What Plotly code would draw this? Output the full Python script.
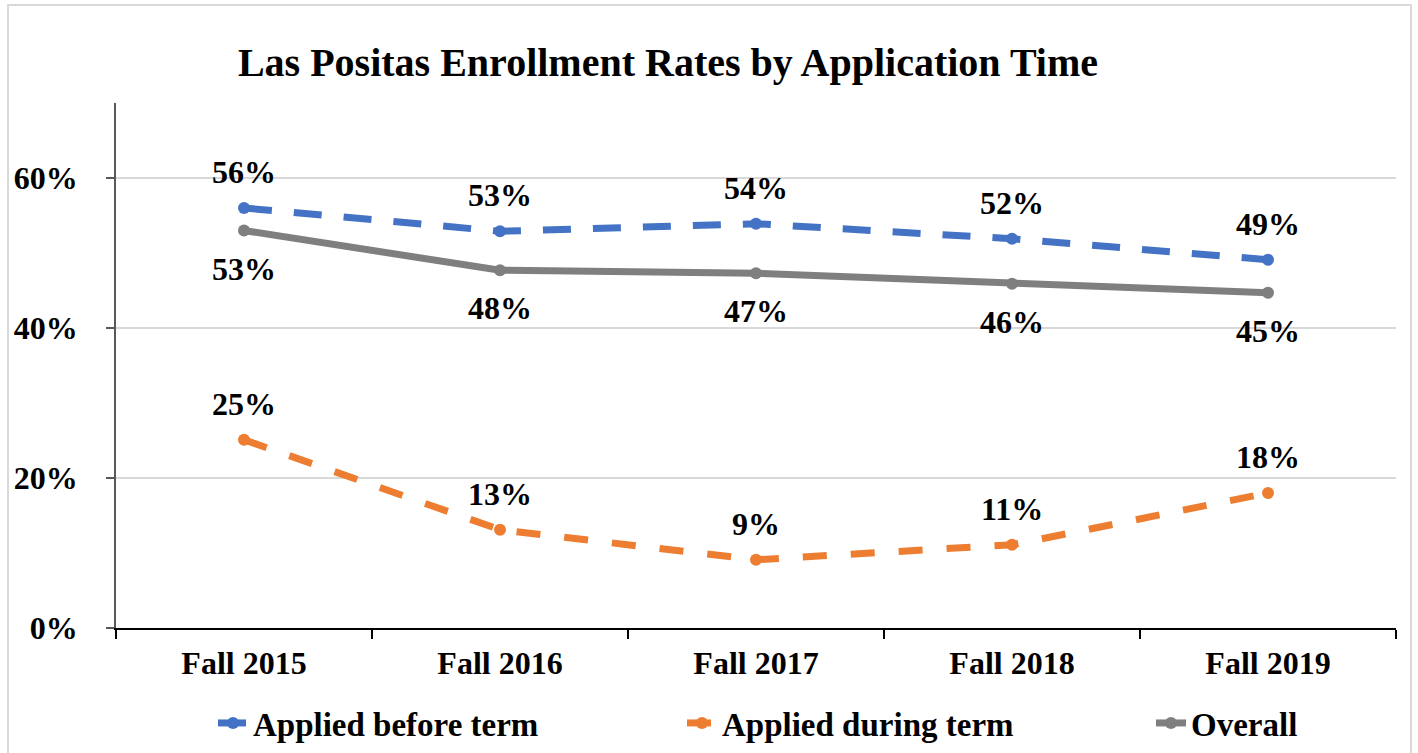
import plotly.graph_objects as go

categories = ["Fall 2015", "Fall 2016", "Fall 2017", "Fall 2018", "Fall 2019"]
applied_before = [0.56, 0.529, 0.539, 0.519, 0.491]
applied_during = [0.251, 0.131, 0.091, 0.111, 0.18]
overall = [0.53, 0.477, 0.473, 0.459, 0.447]
y_ticks = [0, 0.2, 0.4, 0.6]

FONT = "Liberation Serif"
BLUE = "#4472C4"
ORANGE = "#ED7D31"
GRAY = "#7F7F7F"

fig = go.Figure()
series = [
    ("Applied before term", applied_before, BLUE, "28px,22px", 36, 424),
    ("Applied during term", applied_during, ORANGE, "24px,24px", 36, 424),
    ("Overall", overall, GRAY, "solid", -38, None),
]
annotations = []
for name, vals, color, dash, shift, lw in series:
    kw = {}
    if lw:
        kw["legendwidth"] = lw
    fig.add_trace(go.Scatter(
        x=categories, y=vals, name=name, mode="lines+markers",
        line=dict(color=color, width=7, dash=dash),
        marker=dict(color=color, size=12), **kw
    ))
    for c, v in zip(categories, vals):
        annotations.append(dict(
            x=c, y=v, xref="x", yref="y", text=f"{round(v*100):.0f}%",
            showarrow=False, yshift=shift,
            font=dict(family=FONT, size=32, color="black", weight="bold"),
        ))

L, R, T, B = 116, 22, 103, 125
W, H = 1418, 753
pw, ph = W - L - R, H - T - B

fig.add_shape(type="rect", xref="paper", yref="paper",
              x0=(8 - L) / pw, x1=(1411 - L) / pw,
              y0=(628 - 760) / ph, y1=(628 - 5) / ph,
              line=dict(color="#D9D9D9", width=2), layer="below")

fig.update_layout(
    width=W, height=H,
    margin=dict(l=L, r=R, t=T, b=B, autoexpand=False),
    paper_bgcolor="white", plot_bgcolor="white",
    font=dict(family=FONT, size=32, color="black", weight="bold"),
    title=dict(text="<b>Las Positas Enrollment Rates by Application Time</b>",
               x=668 / W, xanchor="center", xref="container",
               y=1 - 62 / H, yanchor="middle", yref="container",
               font=dict(family=FONT, size=40, color="black")),
    annotations=annotations,
    showlegend=True,
    legend=dict(orientation="h", x=213 / W, xanchor="left", xref="container",
                y=1 - 723 / H, yanchor="middle", yref="container",
                font=dict(family=FONT, size=33, color="black", weight="bold"),
                bgcolor="rgba(0,0,0,0)"),
    xaxis=dict(type="category", range=[-0.5, 4.5], tickson="boundaries",
               ticks="outside", ticklen=9, tickcolor="black", tickwidth=1.5,
               showline=True, linecolor="black", linewidth=1.5,
               showgrid=False, ticklabelstandoff=6, automargin=False,
               tickfont=dict(family=FONT, size=32, color="black", weight="bold")),
    yaxis=dict(range=[0, 0.7], tickvals=y_ticks, tickformat=".0%",
               ticks="outside", ticklen=8, tickcolor="#595959", tickwidth=1.5,
               showline=True, linecolor="#595959", linewidth=1.5,
               showgrid=True, gridcolor="#D9D9D9", gridwidth=1.5,
               zeroline=False, ticklabelstandoff=22, automargin=False,
               tickfont=dict(family=FONT, size=32, color="black", weight="bold")),
)

fig.write_html("out.html", config={"displayModeBar": False},
               post_script="document.body.style.margin='0';")
